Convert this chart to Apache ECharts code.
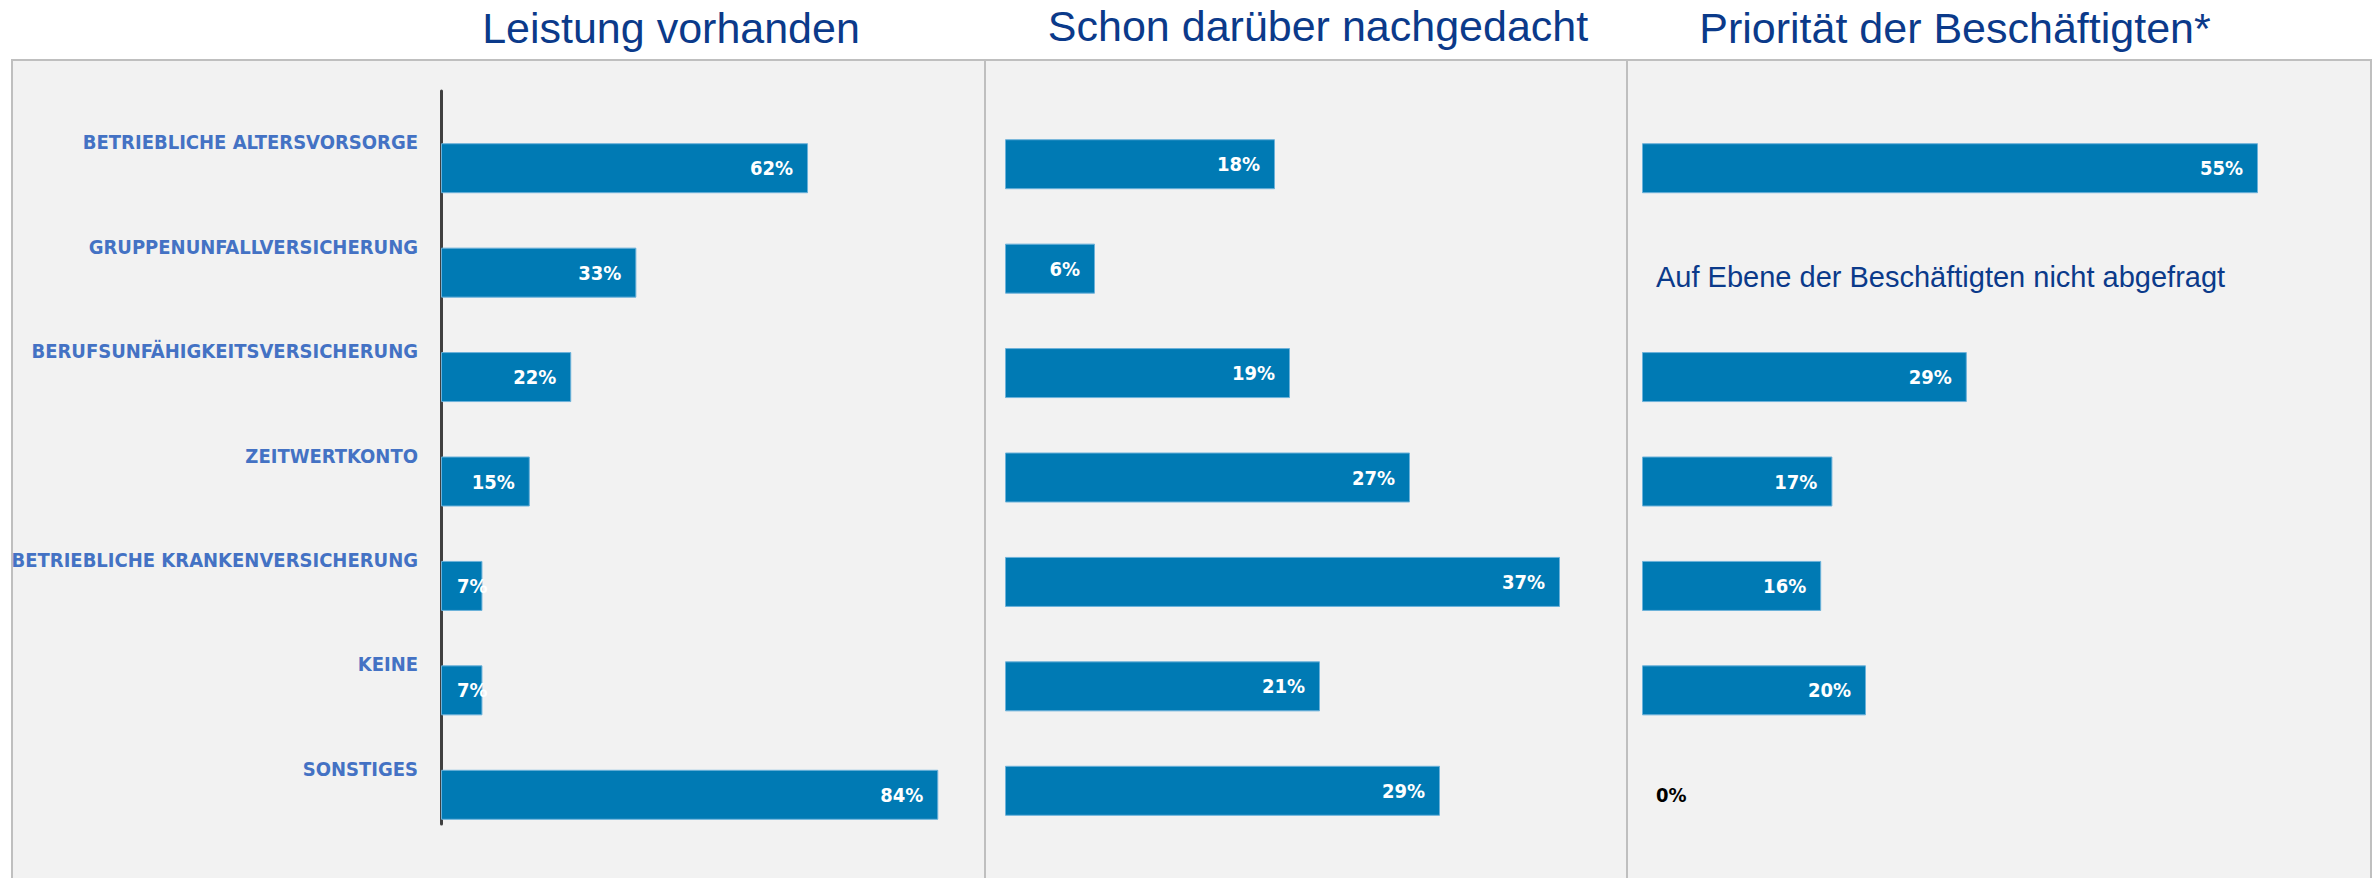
<!DOCTYPE html>
<html>
<head>
<meta charset="utf-8">
<script src="https://cdn.jsdelivr.net/npm/echarts@6/dist/echarts.min.js"></script>
<style>
  html, body { margin: 0; padding: 0; background: #fff; }
  #main { width: 2376px; height: 878px; }
</style>
</head>
<body>
<div id="main"></div>
<script>
  // Daten
  var categories = [
    'BETRIEBLICHE ALTERSVORSORGE',
    'GRUPPENUNFALLVERSICHERUNG',
    'BERUFSUNFÄHIGKEITSVERSICHERUNG',
    'ZEITWERTKONTO',
    'BETRIEBLICHE KRANKENVERSICHERUNG',
    'KEINE',
    'SONSTIGES'
  ];
  var leistungVorhanden = [62, 33, 22, 15, 7, 7, 84];
  var schonNachgedacht = [18, 6, 19, 27, 37, 21, 29];
  var prioritaet = [55, null, 29, 17, 16, 20, 0];
  var panelTitles = ['Leistung vorhanden', 'Schon darüber nachgedacht', 'Priorität der Beschäftigten*'];
  var hinweis = 'Auf Ebene der Beschäftigten nicht abgefragt';

  var narrow = "'Liberation Sans Narrow', 'DejaVu Sans Condensed', sans-serif";
  var arial = "'Liberation Sans', Arial, sans-serif";
  var barColor = '#007ab4';
  var titleColor = '#0b3a8a';

  // kleine Balken: Beschriftung links im Balken, 0 schwarz daneben
  function toItems(values) {
    return values.map(function (v) {
      if (v === null) return null;
      if (v === 0) return {
        value: v,
        itemStyle: { borderWidth: 0 },
        label: { position: 'insideLeft', distance: 14, color: '#000' }
      };
      if (v < 10 && values === leistungVorhanden) return { value: v, label: { position: 'insideLeft', distance: 16 } };
      return v;
    });
  }

  function barSeries(values, idx) {
    return {
      type: 'bar',
      xAxisIndex: idx,
      yAxisIndex: idx,
      barWidth: 50,
      data: toItems(values),
      itemStyle: { color: barColor, borderColor: '#6cb2da', borderWidth: 1 },
      label: {
        show: true,
        position: 'insideRight',
        distance: 15,
        color: '#fff',
        fontFamily: narrow,
        fontWeight: 'bold',
        fontSize: 20,
        formatter: function (p) { return p.value + '%'; }
      }
    };
  }

  function catAxis(idx, showLabels) {
    return {
      type: 'category',
      gridIndex: idx,
      inverse: true,
      data: categories,
      axisLine: { show: false },
      axisTick: { show: false },
      axisLabel: {
        show: showLabels,
        margin: 23,
        formatter: function (v) { return '{c|' + v + '}'; },
        rich: {
          c: {
            color: '#4472c4',
            fontFamily: narrow,
            fontWeight: 'bold',
            fontSize: 20,
            padding: [0, 0, 52, 0]
          }
        }
      }
    };
  }

  function gridAt(left, top, width, height) {
    return { left: left, top: top, width: width, height: height, containLabel: false, outerBoundsMode: 'none' };
  }

  function titleText(x, y, text, size, align) {
    return {
      type: 'text', z: 1, x: x, y: y,
      style: {
        text: text, align: align, verticalAlign: 'middle', textAlign: align, textVerticalAlign: 'middle',
        fontSize: size, fontFamily: arial, fill: titleColor
      }
    };
  }

  var chart = echarts.init(document.getElementById('main'), null, { renderer: 'svg' });
  chart.setOption({
    animation: false,
    backgroundColor: '#fff',
    graphic: [
      { type: 'rect', z: 0, shape: { x: 12, y: 60, width: 2359, height: 830 },
        style: { fill: '#f2f2f2', stroke: '#bfbfbf', lineWidth: 2 } },
      { type: 'line', z: 0, shape: { x1: 985, y1: 60, x2: 985, y2: 878 },
        style: { stroke: '#bfbfbf', lineWidth: 2 } },
      { type: 'line', z: 0, shape: { x1: 1627, y1: 60, x2: 1627, y2: 878 },
        style: { stroke: '#bfbfbf', lineWidth: 2 } },
      titleText(671, 28, panelTitles[0], 43, 'center'),
      titleText(1318, 26, panelTitles[1], 43, 'center'),
      titleText(1955, 28, panelTitles[2], 43, 'center'),
      titleText(1656, 277, hinweis, 29, 'left')
    ],
    grid: [
      gridAt(441, 116, 592, 731),
      gridAt(1005, 112, 600, 731),
      gridAt(1642, 116, 672, 731),
      gridAt(441, 91, 10, 733)
    ],
    xAxis: [
      { type: 'value', gridIndex: 0, min: 0, max: 100, show: false },
      { type: 'value', gridIndex: 1, min: 0, max: 40, show: false },
      { type: 'value', gridIndex: 2, min: 0, max: 60, show: false },
      { type: 'value', gridIndex: 3, min: 0, max: 1, show: false }
    ],
    yAxis: [
      catAxis(0, true),
      catAxis(1, false),
      catAxis(2, false),
      {
        type: 'value', gridIndex: 3, min: 0, max: 1,
        axisLine: { show: true, lineStyle: { color: '#404040', width: 3 } },
        axisTick: { show: false },
        axisLabel: { show: false },
        splitLine: { show: false }
      }
    ],
    series: [
      barSeries(leistungVorhanden, 0),
      barSeries(schonNachgedacht, 1),
      barSeries(prioritaet, 2)
    ]
  });
</script>
</body>
</html>
